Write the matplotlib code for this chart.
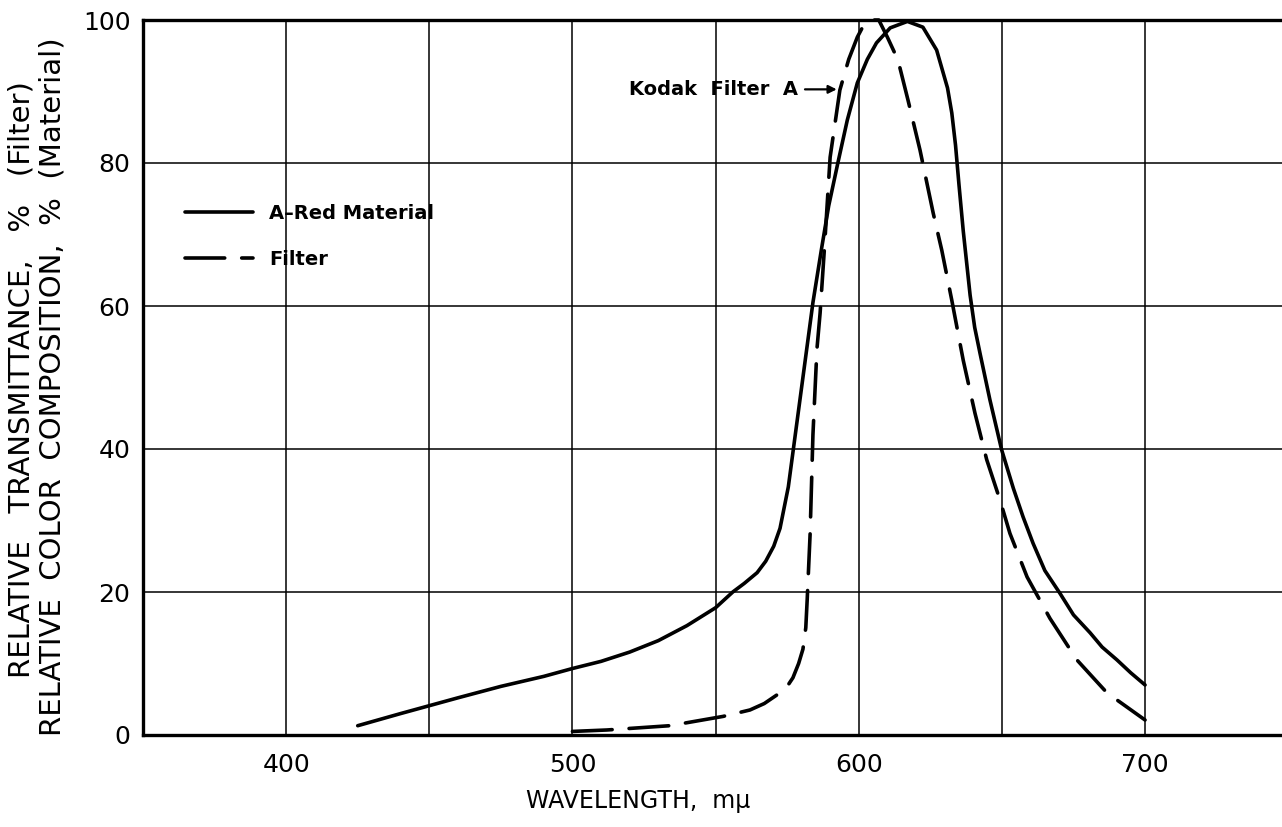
import matplotlib
matplotlib.use('Agg')
import matplotlib.pyplot as plt

# A-Red Material (solid curve)
mat_wl = [425, 440, 450, 460, 475, 490, 500, 510, 520, 530, 540, 550, 556, 560,
          564.5, 567.5, 570.3, 572.5, 575.4, 578, 581, 584, 587, 589.5, 592.7, 596,
          599.5, 603, 606.2, 611, 617, 622.4, 627.2, 631, 632.5, 633.8, 635,
          636.5, 638.9, 640.5, 642.4, 645.8, 649.9, 654, 657.4, 660.9, 665, 670.3,
          675, 680.8, 685, 690.2, 695, 700]
mat_val = [1.3, 3.0, 4.1, 5.2, 6.8, 8.2, 9.3, 10.3, 11.6, 13.2, 15.3, 17.8, 20.0, 21.2,
           22.7, 24.3, 26.4, 28.9, 34.7, 42.5, 51.5, 60.5, 68.0, 74.0, 80.0, 86.0,
           91.2, 94.5, 96.8, 98.9, 99.8, 99.0, 95.8, 90.5, 87.0, 82.5, 77.0,
           70.5, 61.5, 57.0, 53.3, 46.9, 39.9, 34.5, 30.5, 26.8, 23.0, 19.8,
           16.8, 14.3, 12.3, 10.5, 8.7, 7.0]

# Kodak Filter A (dashed curve)
flt_wl = [500, 512, 534, 552.6, 562, 567, 572.5, 575, 577, 579, 580.5, 581.5, 582,
          583, 584, 585.4, 586.5, 588, 590, 593.4, 596.5, 599.5, 602, 604, 607,
          610, 613.7, 617.2, 621.4, 626, 629, 632.5, 636.5, 640.6, 644.7, 649.3,
          652.8, 658.8, 666.8, 676.2, 686.7, 700]
flt_val = [0.5, 0.7, 1.3, 2.6, 3.5, 4.4, 5.9, 6.8, 8.0, 10.0, 12.0, 15.0, 19.0,
           28.0, 42.0, 54.0, 59.0, 68.0, 80.8, 90.2, 94.5, 97.6, 99.5, 100.0, 100.0,
           97.6, 94.4, 88.8, 81.8, 73.0, 67.8, 60.8, 52.4, 45.0, 38.5, 32.9,
           28.2, 22.1, 16.3, 10.5, 5.9, 2.1]

x_ticks = [400, 500, 600, 700]
y_ticks = [0, 20, 40, 60, 80, 100]

W, H = 1282, 827
fig = plt.figure(figsize=(W / 100, H / 100), dpi=100)
ax = fig.add_axes([143 / W, 1 - 735 / H, (W - 143) / W, (735 - 20) / H])

ax.set_xlim(350, 350 + 1139 / 2.863)
ax.set_ylim(0, 100)

# grid: every 50 mu vertically, every 20 % horizontally
for gx in range(400, 750, 50):
    ax.axvline(gx, color='black', lw=1.1, zorder=1)
for gy in [20, 40, 60, 80]:
    ax.axhline(gy, color='black', lw=1.1, zorder=1)

l1, = ax.plot(mat_wl, mat_val, color='black', lw=2.6, solid_capstyle='round',
              solid_joinstyle='round', label='A\u2013Red Material', zorder=3,
              clip_on=False)
l2, = ax.plot(flt_wl, flt_val, color='black', lw=2.6, dashes=(11, 4.7),
              dash_capstyle='round', label='Filter', zorder=3, clip_on=False)

ax.set_xticks(x_ticks)
ax.set_yticks(y_ticks)
ax.tick_params(length=0, labelsize=18)
ax.tick_params(axis='x', pad=13)
ax.tick_params(axis='y', pad=9)

for side in ['left', 'bottom', 'top']:
    ax.spines[side].set_linewidth(2.4)
ax.spines['right'].set_visible(False)

leg = ax.legend(handles=[l1, l2], loc='upper left', bbox_to_anchor=(0.037, 0.743),
                frameon=False, handlelength=3.5, handletextpad=0.8,
                labelspacing=1.4, borderpad=0, borderaxespad=0,
                prop={'size': 14, 'weight': 'bold'})

ax.annotate('Kodak  Filter  A', xy=(592.3, 90.3), xytext=(578.8, 90.3),
            ha='right', va='center', fontsize=14, fontweight='bold',
            arrowprops=dict(arrowstyle='-|>', color='black', lw=1.6,
                            shrinkA=3, shrinkB=0, mutation_scale=12))

fig.text(22 / W, 1 - 380 / H, 'RELATIVE   TRANSMITTANCE,   %   (Filter)',
         rotation=90, ha='center', va='center', fontsize=21)
fig.text(53 / W, 1 - 387 / H, 'RELATIVE  COLOR  COMPOSITION,  %  (Material)',
         rotation=90, ha='center', va='center', fontsize=21)
fig.text(638 / W, 1 - 801 / H, 'WAVELENGTH,  m\u03bc', ha='center', va='center',
         fontsize=17)

fig.savefig('out.png', dpi=100)
